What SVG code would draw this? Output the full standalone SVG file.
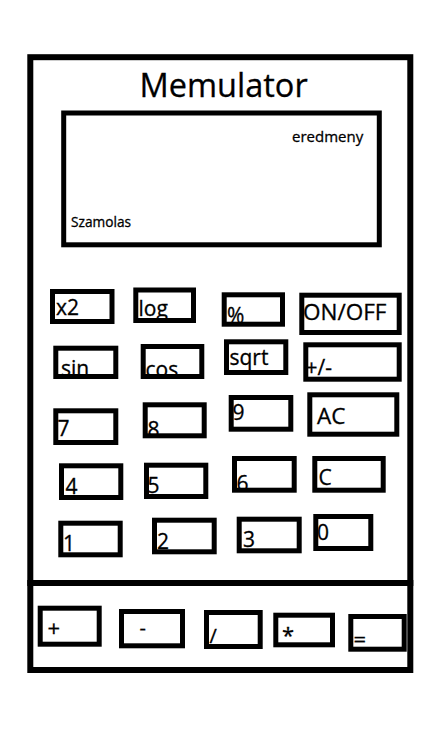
<svg xmlns="http://www.w3.org/2000/svg" width="446" height="729" viewBox="0 0 446 729">
<style>
  .frame { fill: none; stroke: #000; stroke-width: 6; }
  .btn { fill: none; stroke: #000; stroke-width: 5; }
  text { font-family: "Open Sans", "Liberation Sans", sans-serif; fill: #000; stroke: #000; stroke-width: 0.3; }
  .lbl { font-size: 21px; }
  .op { font-size: 22px; }
</style>
<rect x="0" y="0" width="446" height="729" fill="#fff"/>
<g id="body">
  <rect class="frame" x="30.3" y="57.2" width="380" height="525.8"/>
  <text x="139.5" y="96.5" font-size="32.5">Memulator</text>
</g>
<g id="display">
  <rect class="btn" x="63.7" y="113" width="315.6" height="131.8" stroke-width="6"/>
  <text x="292" y="141.5" font-size="15">eredmeny</text>
  <text x="71" y="226.5" font-size="13.7">Szamolas</text>
</g>
<g id="btn-x2"><rect class="btn" x="52.5" y="291.5" width="59.5" height="30"/><text class="lbl" x="56" y="315">x2</text></g>
<g id="btn-log"><rect class="btn" x="135.8" y="290" width="57.7" height="30.5"/><text class="lbl" x="138.5" y="316">log</text></g>
<g id="btn-pct"><text class="lbl" x="227" y="322.5">%</text><rect class="btn" x="224.2" y="294.8" width="58.3" height="29.4"/></g>
<g id="btn-onoff"><rect class="btn" x="301.8" y="295.2" width="97.4" height="37.3"/><text x="303" y="319.5" font-size="22.5">ON/OFF</text></g>

<g id="btn-sin"><rect class="btn" x="55.8" y="348.2" width="60" height="28.3"/><text class="lbl" x="61" y="375.5">sin</text></g>
<g id="btn-cos"><rect class="btn" x="143.2" y="346.5" width="58.6" height="30"/><text class="lbl" x="145.5" y="377">cos</text></g>
<g id="btn-sqrt"><rect class="btn" x="226.5" y="341.8" width="59.3" height="30.7"/><text class="lbl" x="229.5" y="364.5">sqrt</text></g>
<g id="btn-sign"><rect class="btn" x="305.8" y="344.8" width="93.4" height="34.4"/><text class="lbl" x="305.5" y="375">+/-</text></g>

<g id="btn-7"><rect class="btn" x="55.8" y="410.8" width="60" height="31.7"/><text class="lbl" x="57.5" y="435.5">7</text></g>
<g id="btn-8"><rect class="btn" x="145.2" y="404.8" width="59" height="31"/><text class="lbl" x="147.5" y="437">8</text></g>
<g id="btn-9"><rect class="btn" x="231.2" y="397.5" width="59.6" height="31.7"/><text class="lbl" x="232.5" y="419.5">9</text></g>
<g id="btn-ac"><rect class="btn" x="309.8" y="394.8" width="87" height="39.4"/><text x="317" y="423.5" font-size="22.5">AC</text></g>

<g id="btn-4"><rect class="btn" x="61.5" y="465.8" width="59.3" height="31.7"/><text class="lbl" x="65.5" y="493.5">4</text></g>
<g id="btn-5"><rect class="btn" x="146.5" y="465.2" width="59.3" height="31.3"/><text class="lbl" x="147.5" y="493">5</text></g>
<g id="btn-6"><rect class="btn" x="234.5" y="458.5" width="59.7" height="31.7"/><text class="lbl" x="236.5" y="490.5">6</text></g>
<g id="btn-c"><rect class="btn" x="314.8" y="458.5" width="68.4" height="31.7"/><text class="lbl" x="318.5" y="484.5">C</text></g>

<g id="btn-1"><rect class="btn" x="60.8" y="523.2" width="59.4" height="31.6"/><text class="lbl" x="63" y="551">1</text></g>
<g id="btn-2"><rect class="btn" x="154.5" y="520.2" width="59.7" height="31.6"/><text class="lbl" x="157" y="548.5">2</text></g>
<g id="btn-3"><rect class="btn" x="239.2" y="519.2" width="60" height="31.6"/><text class="lbl" x="243" y="547">3</text></g>
<g id="btn-0"><rect class="btn" x="315.8" y="516.5" width="55" height="32"/><text class="lbl" x="317" y="540">0</text></g>

<g id="ops-panel">
  <rect class="frame" x="30.3" y="583" width="380" height="87"/>
</g>
<g id="btn-plus"><rect class="btn" x="40.2" y="608.2" width="59" height="36"/><text class="op" x="47.5" y="636">+</text></g>
<g id="btn-minus"><rect class="btn" x="121.5" y="611.5" width="61" height="34.3"/><text x="139.5" y="634.5" font-size="20">-</text></g>
<g id="btn-div"><rect class="btn" x="206.5" y="612.5" width="53.7" height="34"/><text x="209.5" y="642.5" font-size="20">/</text></g>
<g id="btn-mul"><rect class="btn" x="275.8" y="615.2" width="56.7" height="29.6"/><text class="op" x="282" y="643">*</text></g>
<g id="btn-eq"><rect class="btn" x="350.8" y="616.5" width="53.4" height="32.7"/><text class="op" x="353.5" y="646.5">=</text></g>
</svg>
